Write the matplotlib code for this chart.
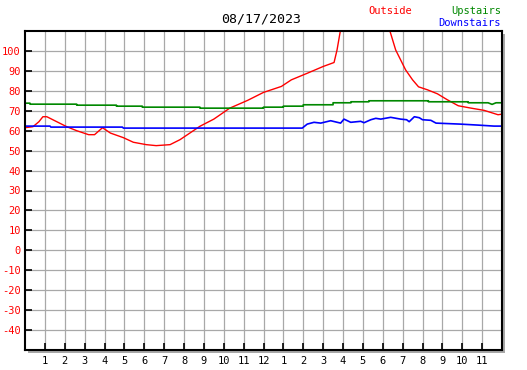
import matplotlib
matplotlib.use("Agg")
import matplotlib.pyplot as plt
from matplotlib.patches import Rectangle

title = "08/17/2023"
hour_labels = ["1", "2", "3", "4", "5", "6", "7", "8", "9", "10", "11", "12",
               "1", "2", "3", "4", "5", "6", "7", "8", "9", "10", "11"]
y_ticks = [-40, -30, -20, -10, 0, 10, 20, 30, 40, 50, 60, 70, 80, 90, 100]

# outside temperature (hours since midnight, deg F)
out_h = [0.0, 0.4, 0.7, 0.9, 1.1, 1.4, 2.1, 2.6, 2.9, 3.2, 3.5, 3.9, 4.3, 4.95,
         5.45, 6.1, 6.6, 7.3, 7.8, 8.8, 9.5, 10.3, 11.2, 12.0, 12.9, 13.4, 14.2,
         15.0, 15.55, 15.7, 15.9, 16.5, 17.2, 17.9, 18.3, 18.65, 18.9, 19.15,
         19.5, 19.8, 20.25, 20.75, 21.25, 21.8, 22.45, 23.1, 23.8, 24.0]
out_v = [61.5, 62.0, 64.5, 67.0, 67.0, 65.5, 62.0, 60.0, 59.0, 58.0, 58.0, 61.5,
         58.8, 56.5, 54.2, 53.0, 52.5, 53.0, 55.5, 62.2, 65.8, 71.3, 75.2, 79.2,
         82.2, 85.5, 88.8, 92.2, 94.2, 100.5, 112.0, 125.0, 130.0, 125.0, 112.0,
         100.5, 95.5, 90.5, 85.5, 82.0, 80.5, 78.5, 75.5, 72.5, 71.3, 70.2, 68.0,
         68.3]

# upstairs temperature
up_h = [0.0, 0.25, 0.25, 2.6, 2.6, 4.6, 4.6, 5.9, 5.9, 8.8, 8.8, 12.0, 12.0,
        13.0, 13.0, 14.0, 14.0, 15.5, 15.5, 16.4, 16.4, 17.3, 17.3, 20.3, 20.3,
        22.3, 22.3, 23.3, 23.5, 23.7, 24.0]
up_v = [73.8, 73.8, 73.3, 73.3, 72.8, 72.8, 72.3, 72.3, 71.8, 71.8, 71.3, 71.3,
        71.8, 71.8, 72.3, 72.3, 73.0, 73.0, 74.0, 74.0, 74.5, 74.5, 75.0, 75.0,
        74.5, 74.5, 74.0, 74.0, 73.2, 74.0, 74.0]

# downstairs temperature
down_h = [0.0, 1.26, 1.3, 1.5, 4.9, 4.95, 13.95, 14.2, 14.54, 14.88, 15.38,
          15.88, 16.05, 16.39, 16.89, 17.06, 17.4, 17.65, 17.9, 18.4, 18.9,
          19.2, 19.33, 19.59, 19.84, 20.0, 20.42, 20.68, 21.9, 22.8, 23.6, 24.0]
down_v = [62.3, 62.3, 61.8, 61.8, 61.8, 61.3, 61.3, 63.3, 64.2, 63.8, 65.0,
          63.8, 65.8, 64.2, 64.7, 64.0, 65.5, 66.2, 65.8, 66.7, 65.8, 65.5,
          64.5, 67.0, 66.5, 65.5, 65.2, 63.8, 63.3, 62.8, 62.3, 62.3]

plt.rcParams["font.family"] = ["DejaVu Sans Mono"]

W, H = 527, 370
fig = plt.figure(figsize=(W / 100, H / 100), dpi=100)
fig.patch.set_facecolor("white")

x0, x1, y0, y1 = 25, 502, 31, 350
rect = [x0 / W, 1 - y1 / H, (x1 - x0) / W, (y1 - y0) / H]

# drop shadow
fig.patches.append(Rectangle((rect[0] + 3 / W, rect[1] - 3 / H), rect[2], rect[3],
                             transform=fig.transFigure, facecolor="#a8a8a8",
                             edgecolor="none", zorder=0))

ax = fig.add_axes(rect)
ax.set_zorder(1)
ax.set_facecolor("white")
ax.set_xlim(0, 24)
ax.set_ylim(-50, 110)

ax.plot(out_h, out_v, color="red", lw=1.0)
ax.plot(up_h, up_v, color="#008800", lw=1.2)
ax.plot(down_h, down_v, color="blue", lw=1.2)

ax.set_xticks(range(1, 24))
ax.set_xticklabels(hour_labels, fontsize=7.5)
ax.set_yticks(y_ticks)
ax.set_yticklabels([str(v) for v in y_ticks], fontsize=7.5, color="red")
ax.tick_params(axis="both", direction="in", length=5, width=1.2, color="black")
ax.tick_params(axis="x", pad=4)
ax.tick_params(axis="y", pad=3)
ax.grid(True, color="#a8a8a8", lw=0.9)
ax.set_axisbelow(True)
for s in ax.spines.values():
    s.set_linewidth(1.5)
    s.set_color("black")

fig.text(261 / W, 1 - 19 / H, title, fontsize=9.5, ha="center", va="center")
fig.text(390 / W, 1 - 11 / H, "Outside", fontsize=7.5, color="red",
         ha="center", va="center")
fig.text(501 / W, 1 - 11 / H, "Upstairs", fontsize=7.5, color="#008800",
         ha="right", va="center")
fig.text(501 / W, 1 - 23 / H, "Downstairs", fontsize=7.5, color="blue",
         ha="right", va="center")

fig.savefig("out.png", dpi=100, facecolor="white")
